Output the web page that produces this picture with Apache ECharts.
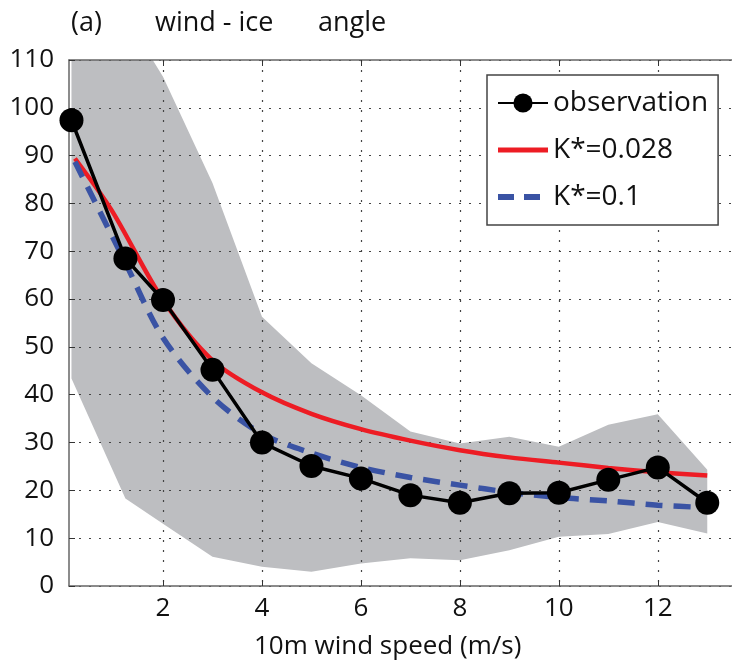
<!DOCTYPE html>
<html>
<head>
<meta charset="utf-8">
<script src="https://cdn.jsdelivr.net/npm/echarts@6/dist/echarts.min.js"></script>
<style>
  html, body { margin: 0; padding: 0; background: #fff; }
  #chart { width: 732px; height: 669px; }
</style>
</head>
<body>
<div id="chart"></div>
<script>
// Observed wind-ice turning angle binned by 10 m wind speed
const obsSpeed = [0.15, 1.24, 2, 3, 4, 5, 6, 7, 8, 9, 10, 11, 12, 13];
const obsAngle = [97.4, 68.5, 59.8, 45.2, 30.0, 25.1, 22.5, 19.0, 17.4, 19.4, 19.5, 22.2, 24.8, 17.4];

// Spread of the observations (shaded envelope)
const bandLow  = [43.4, 18.3, 13.0, 6.1, 4.0, 3.0, 4.7, 5.8, 5.4, 7.5, 10.3, 10.9, 13.4, 11.0];
const bandHigh = [137, 119.3, 106.5, 84.3, 56.3, 46.6, 39.9, 32.3, 29.8, 31.2, 29.1, 33.7, 35.9, 24.3];

// Model curves for two values of K*
const modelSpeedA = [0.22, 0.96, 2, 3, 4, 5, 6, 7, 8, 9, 10, 11, 12, 13];
const modelAngleA = [89.4, 78.6, 59.8, 47.2, 40.5, 36.0, 32.8, 30.4, 28.4, 26.9, 25.8, 24.7, 23.8, 23.1];
const modelSpeedB = [0.22, 1.24, 2, 3, 4, 5, 6, 7, 8, 9, 10, 11, 12, 13];
const modelAngleB = [88.7, 67.6, 51.9, 39.5, 31.8, 27.8, 24.8, 22.7, 21.1, 19.6, 18.5, 17.8, 16.9, 16.4];

const xTicks = [2, 4, 6, 8, 10, 12];

const FONT = 'Open Sans';
const pairs = (xs, ys) => xs.map((x, i) => [x, ys[i]]);

const chart = echarts.init(document.getElementById('chart'), null, { renderer: 'canvas' });

const xCommon = {
  type: 'value',
  min: 0.1,
  max: 13.5,
  axisLine: { show: true, lineStyle: { color: '#666', width: 1.5 } },
  axisTick: { show: true, inside: true, length: 6, customValues: xTicks, lineStyle: { color: '#333', width: 1 } },
  z: 2
};

// Envelope polygon: upper edge left-to-right, then lower edge back
function renderBand(params, api) {
  const pts = [];
  for (let i = 0; i < obsSpeed.length; i++) pts.push(api.coord([obsSpeed[i], bandHigh[i]]));
  for (let i = obsSpeed.length - 1; i >= 0; i--) pts.push(api.coord([obsSpeed[i], bandLow[i]]));
  const cs = params.coordSys;
  return {
    type: 'polygon',
    shape: { points: pts },
    style: { fill: '#bdbec1' },
    clipPath: { type: 'rect', shape: { x: cs.x, y: cs.y, width: cs.width, height: cs.height } }
  };
}

chart.setOption({
  animation: false,
  backgroundColor: '#fff',
  title: [
    { text: '(a)', left: 66, top: 5, textStyle: { fontFamily: FONT, fontSize: 27, fontWeight: 'normal', color: '#111' } },
    { text: 'wind - ice', left: 150, top: 5, textStyle: { fontFamily: FONT, fontSize: 27, fontWeight: 'normal', color: '#111' } },
    { text: 'angle', left: 313, top: 5, textStyle: { fontFamily: FONT, fontSize: 27, fontWeight: 'normal', color: '#111' } },
    { text: '10m wind speed (m/s)', left: 249, top: 629, textStyle: { fontFamily: FONT, fontSize: 26, fontWeight: 'normal', color: '#111' } }
  ],
  grid: { left: 69, top: 60, width: 669, height: 526, containLabel: false },
  legend: {
    data: [
      { name: 'observation' },
      { name: 'K*=0.028', icon: 'path://M0,0h50v5h-50z' },
      { name: 'K*=0.1', icon: 'path://M0,0h16v6h-16z M26,0h16v6h-16z M49.99,2.99h0.01v0.01h-0.01z' }
    ],
    orient: 'vertical',
    left: 487,
    top: 75,
    padding: [14, 10, 14, 10],
    itemGap: 19,
    itemWidth: 50,
    itemHeight: 24,
    backgroundColor: '#fff',
    borderColor: '#444',
    borderWidth: 1.5,
    textStyle: { fontFamily: FONT, fontSize: 28, color: '#111' }
  },
  xAxis: [
    Object.assign({}, xCommon, {
      position: 'bottom',
      axisLabel: { show: true, customValues: xTicks, fontFamily: FONT, fontSize: 26, color: '#111', margin: 10 },
      splitLine: { show: true, lineStyle: { type: [2, 8], color: '#444', width: 1.2 } }
    }),
    Object.assign({}, xCommon, {
      position: 'top',
      axisLabel: { show: false },
      splitLine: { show: false }
    })
  ],
  yAxis: {
    type: 'value',
    min: 0,
    max: 110,
    interval: 10,
    z: 2,
    axisLine: { show: true, lineStyle: { color: '#666', width: 1.5 } },
    axisTick: { show: true, inside: true, length: 6, lineStyle: { color: '#333' } },
    axisLabel: { fontFamily: FONT, fontSize: 26, color: '#111', margin: 15 },
    splitLine: { show: true, lineStyle: { type: [2, 8], color: '#444', width: 1.2 } }
  },
  series: [
    {
      name: 'spread',
      type: 'custom',
      renderItem: renderBand,
      data: [0],
      silent: true,
      z: 1
    },
    {
      name: 'K*=0.028',
      type: 'line',
      data: pairs(modelSpeedA, modelAngleA),
      symbol: 'none',
      smooth: 0.3,
      lineStyle: { color: '#ed1c24', width: 4.5 },
      itemStyle: { color: '#ed1c24' },
      z: 3
    },
    {
      name: 'K*=0.1',
      type: 'line',
      data: pairs(modelSpeedB, modelAngleB),
      symbol: 'none',
      smooth: 0.3,
      lineStyle: { color: '#3a53a4', width: 5.5, type: [17, 11] },
      itemStyle: { color: '#3a53a4' },
      z: 4
    },
    {
      name: 'observation',
      type: 'line',
      data: pairs(obsSpeed, obsAngle),
      symbol: 'circle',
      symbolSize: 24,
      lineStyle: { color: '#000', width: 3.5 },
      itemStyle: { color: '#000' },
      z: 5
    }
  ]
});
</script>
</body>
</html>
